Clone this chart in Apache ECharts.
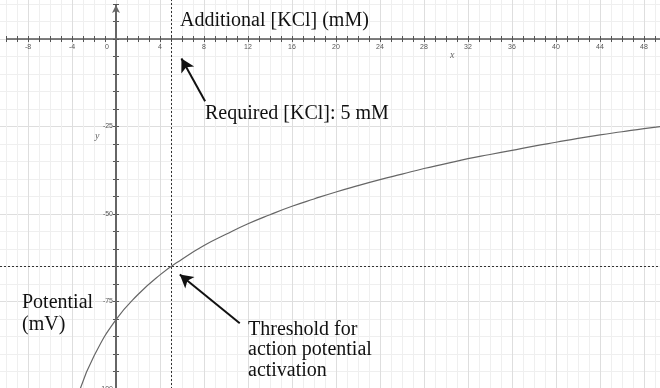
<!DOCTYPE html>
<html>
<head>
<meta charset="utf-8">
<script src="https://cdn.jsdelivr.net/npm/echarts@6/dist/echarts.min.js"></script>
<style>
  html, body { margin: 0; padding: 0; background: #fff; }
  #chart { width: 660px; height: 388px; }
</style>
</head>
<body>
<div id="chart"></div>
<script>
// Resting membrane potential (mV) as KCl is added to the bath (mM)
const kclAdded = [-3.3, -2, 0, 2, 4, 6, 8, 10, 12, 14, 16, 18, 20, 22, 24, 26, 28, 30, 32, 34, 36, 38, 40, 42, 44, 46, 48, 49.5];
const potential = [-100.4, -90.6, -80.2, -73.0, -67.4, -62.9, -59.0, -55.8, -52.8, -50.2, -47.8, -45.7, -43.7, -41.9, -40.2, -38.6, -37.0, -35.6, -34.2, -33.0, -31.8, -30.6, -29.5, -28.4, -27.4, -26.5, -25.6, -25.0];

// Threshold point
const thresholdKcl = 5;
const thresholdMv = -65;

// Axis ranges and tick steps
const xRange = [-12, 52];
const yRange = [-100, 25];
const xMinorStep = 1, xMajorStep = 4;
const yMinorStep = 5, yMajorStep = 25;
const xAxisLineFrom = -10;
const yAxisLineTo = 9.7;

// Annotation arrows: [tail, head] in data units
const requiredArrow = [[8.1, -17.8], [5.95, -5.6]];
const thresholdArrow = [[11.25, -81.2], [5.8, -67.3]];

const AXIS = '#555';
const GRID_MINOR = '#efefef';
const GRID_MAJOR = '#dedede';
const SERIF = '"Liberation Serif", "DejaVu Serif", serif';

// Grid placement: the plotting area runs past the page edges so that
// the visible window starts between ticks.
const GRID = { left: -16, right: -28, top: -48.5, bottom: -1 };
const PX_PER_X = (660 - GRID.left - GRID.right) / (xRange[1] - xRange[0]);
const PX_PER_Y = (388 - GRID.top - GRID.bottom) / (yRange[1] - yRange[0]);
// distance from the grid edges to the zero lines
const xZeroOffset = (0 - xRange[0]) * PX_PER_X;
const yZeroOffset = (yRange[1] - 0) * PX_PER_Y;

const tickStyle = { color: AXIS, width: 1 };
const labelFont = { fontSize: 7, color: '#555', fontFamily: '"Liberation Sans", Arial, sans-serif' };

const chart = echarts.init(document.getElementById('chart'), null, { renderer: 'canvas' });

const curve = kclAdded.map((x, i) => [x, potential[i]]);

const option = {
  animation: false,
  backgroundColor: '#fff',
  grid: Object.assign({ containLabel: false, outerBoundsMode: 'none' }, GRID),
  xAxis: [
    {
      // grid lines and ticks below the zero line
      type: 'value', position: 'bottom', min: xRange[0], max: xRange[1], interval: xMajorStep,
      axisLine: { show: false, onZero: true },
      axisTick: { show: true, inside: false, length: 3, lineStyle: tickStyle },
      minorTick: { show: true, splitNumber: xMajorStep / xMinorStep, length: 3, lineStyle: tickStyle },
      splitLine: { show: true, lineStyle: { color: GRID_MAJOR, width: 1 } },
      minorSplitLine: { show: true, lineStyle: { color: GRID_MINOR, width: 1 } },
      axisLabel: { show: false }
    },
    {
      // ticks above the zero line
      type: 'value', position: 'bottom', min: xRange[0], max: xRange[1], interval: xMinorStep,
      axisLine: { show: false, onZero: true, onZeroAxisIndex: 0 },
      axisTick: { show: true, inside: true, length: 3, lineStyle: tickStyle },
      axisLabel: { show: false },
      splitLine: { show: false }
    },
    {
      // tick labels, hanging just under the zero line
      type: 'value', position: 'top', offset: -yZeroOffset, min: xRange[0], max: xRange[1], interval: xMajorStep,
      axisLine: { show: false, onZero: false },
      axisTick: { show: false },
      splitLine: { show: false },
      axisLabel: Object.assign({
        show: true, inside: true, margin: 5, showMinLabel: false, showMaxLabel: false,
        formatter: v => v === 0 ? '{z|0}' : String(v),
        rich: { z: { padding: [0, 18, 0, 0], fontSize: 7, color: '#555' } }
      }, labelFont)
    }
  ],
  yAxis: [
    {
      type: 'value', position: 'left', min: yRange[0], max: yRange[1], interval: yMajorStep,
      axisLine: { show: false, onZero: true },
      axisTick: { show: true, inside: false, length: 3, lineStyle: tickStyle },
      minorTick: { show: true, splitNumber: yMajorStep / yMinorStep, length: 3, lineStyle: tickStyle },
      splitLine: { show: true, lineStyle: { color: GRID_MAJOR, width: 1 } },
      minorSplitLine: { show: true, lineStyle: { color: GRID_MINOR, width: 1 } },
      axisLabel: { show: false }
    },
    {
      type: 'value', position: 'left', min: yRange[0], max: yRange[1], interval: yMinorStep,
      axisLine: { show: false, onZero: true, onZeroAxisIndex: 0 },
      axisTick: { show: true, inside: true, length: 3, lineStyle: tickStyle },
      axisLabel: { show: false },
      splitLine: { show: false }
    },
    {
      type: 'value', position: 'left', offset: -xZeroOffset, min: yRange[0], max: yRange[1], interval: yMajorStep,
      axisLine: { show: false, onZero: false },
      axisTick: { show: false },
      splitLine: { show: false },
      axisLabel: Object.assign({
        show: true, margin: 3, showMinLabel: true, showMaxLabel: false,
        formatter: v => (v >= 0) ? '' : String(v)
      }, labelFont)
    }
  ],
  series: [
    {
      type: 'line',
      data: curve,
      xAxisIndex: 0, yAxisIndex: 0,
      smooth: 0.5,
      showSymbol: false,
      silent: true,
      lineStyle: { color: '#666', width: 1.2 },
      z: 5,
      markLine: {
        silent: true,
        symbol: ['none', 'none'],
        label: { show: false },
        emphasis: { disabled: true },
        data: [
          { xAxis: thresholdKcl, lineStyle: { color: '#333', width: 1, type: [2, 2] } },
          { yAxis: thresholdMv, lineStyle: { color: '#333', width: 1, type: [2, 2] } },
          [
            { coord: [xAxisLineFrom, 0], lineStyle: { color: AXIS, width: 1.5, type: 'solid' } },
            { coord: [xRange[1], 0] }
          ],
          [
            { coord: [0, yRange[0]], lineStyle: { color: '#666', width: 2, type: 'solid' } },
            { coord: [0, yAxisLineTo], symbol: 'arrow', symbolSize: [6, 8] }
          ],
          [
            { coord: requiredArrow[0], lineStyle: { color: '#111', width: 2, type: 'solid' } },
            { coord: requiredArrow[1], symbol: 'arrow', symbolSize: [11, 13] }
          ],
          [
            { coord: thresholdArrow[0], lineStyle: { color: '#111', width: 2, type: 'solid' } },
            { coord: thresholdArrow[1], symbol: 'arrow', symbolSize: [11, 13] }
          ]
        ]
      }
    }
  ],
  graphic: [
    { type: 'text', left: 180, top: 11, z: 20, style: { text: 'Additional [KCl] (mM)', font: '20px ' + SERIF, fill: '#111' } },
    { type: 'text', left: 205, top: 104, z: 20, style: { text: 'Required [KCl]: ' + thresholdKcl + ' mM', font: '20px ' + SERIF, fill: '#111' } },
    { type: 'text', left: 22, top: 292, z: 20, style: { text: 'Potential\n(mV)', font: '20px ' + SERIF, lineHeight: 22, fill: '#111' } },
    { type: 'text', left: 248, top: 319, z: 20, style: { text: 'Threshold for\naction potential\nactivation', font: '20px ' + SERIF, lineHeight: 20.5, fill: '#111' } },
    { type: 'text', left: 450, top: 50, z: 20, style: { text: 'x', font: 'italic 10px ' + SERIF, fill: '#666' } },
    { type: 'text', left: 95, top: 131, z: 20, style: { text: 'y', font: 'italic 10px ' + SERIF, fill: '#666' } }
  ]
};

chart.setOption(option);
</script>
</body>
</html>
